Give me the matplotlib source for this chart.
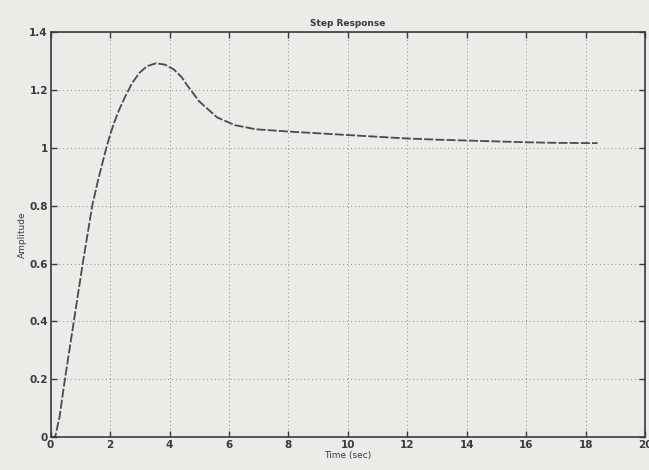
import matplotlib
matplotlib.use('Agg')
import matplotlib.pyplot as plt
from matplotlib.ticker import FormatStrFormatter, MultipleLocator

# step response
time_sec = [0, 0.15, 0.3, 0.48, 0.78, 1.08, 1.4, 1.6, 1.85, 2.0, 2.15, 2.3, 2.5,
            2.75, 3.0, 3.25, 3.55, 3.85, 4.15, 4.4, 4.6, 5.0, 5.6, 6.2, 6.9, 8.0,
            9.0, 10.0, 11.0, 12.0, 13.0, 14.0, 15.0, 16.0, 17.0, 18.4]
amplitude = [0, 0, 0.07, 0.2, 0.4, 0.6, 0.8, 0.89, 0.99, 1.045, 1.09, 1.13, 1.175,
             1.225, 1.26, 1.282, 1.292, 1.287, 1.27, 1.245, 1.215, 1.16, 1.105, 1.078,
             1.064, 1.056, 1.05, 1.044, 1.038, 1.032, 1.028, 1.025, 1.022, 1.019,
             1.017, 1.016]

paper = '#ebebe8'
ink = '#3a3a3a'

fig = plt.figure(figsize=(6.49, 4.70), dpi=100, facecolor=paper)
ax = fig.add_axes([0.078, 0.0696, 0.916, 0.8624], facecolor=paper)

ax.plot(time_sec, amplitude, color='#4a4a4a', lw=1.3, dashes=(5, 1.2))

ax.set_xlim(0, 20)
ax.set_ylim(0, 1.4)
ax.xaxis.set_major_locator(MultipleLocator(2))
ax.yaxis.set_major_locator(MultipleLocator(0.2))
ax.yaxis.set_major_formatter(FormatStrFormatter('%g'))
ax.xaxis.set_major_formatter(FormatStrFormatter('%g'))

ax.grid(True, linestyle=(0, (1, 3)), color='#8a8a8a', lw=0.7)
ax.tick_params(direction='in', length=4, width=1, colors=ink, labelsize=7.5,
               top=True, right=True, pad=2)
for lab in ax.get_xticklabels() + ax.get_yticklabels():
    lab.set_fontweight('bold')
for sp in ax.spines.values():
    sp.set_color(ink)
    sp.set_linewidth(1.2)

ax.set_title('Step Response', fontsize=6.5, fontweight='bold', color=ink, pad=4)
ax.set_xlabel('Time (sec)', fontsize=6.5, color=ink, labelpad=1)
ax.set_ylabel('Amplitude', fontsize=6.5, color=ink, labelpad=2)

fig.savefig('out.png', dpi=100, facecolor=paper)
